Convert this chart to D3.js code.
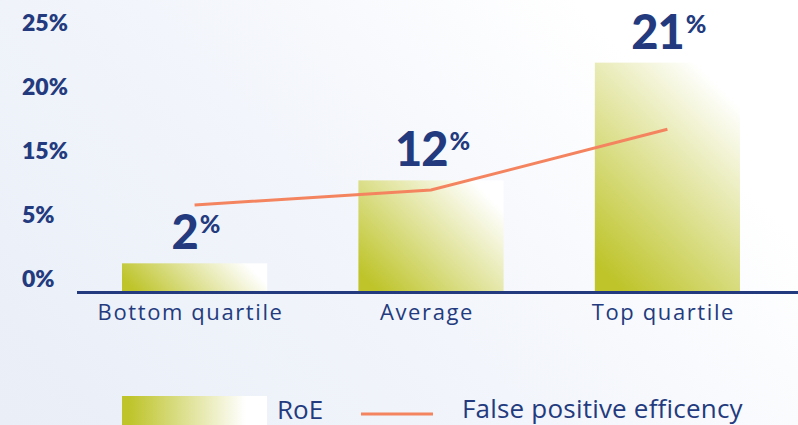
<!DOCTYPE html>
<html>
<head>
<meta charset="utf-8">
<script src="https://cdn.jsdelivr.net/npm/d3@7"></script>
<style>
  body { margin: 0; background: #fff; }
  text { font-family: Lato, "Open Sans", sans-serif; }
  text.os { font-family: "Open Sans", sans-serif; }
</style>
</head>
<body>
<div id="container"></div>
<script>
/* DATA */
const categories = ["Bottom quartile", "Average", "Top quartile"]
const roeValues = [2.8, 10.9, 22.4]        // bar heights
const roeLabels = ["2", "12", "21"]         // printed value labels
const fpeValues = [8.5, 9.96, 15.9]         // false positive efficency line
const tickLabels = ["0%", "5%", "15%", "20%", "25%"]

/* CONSTANTS AND GLOBALS */
const width = 798
const height = 425
const navy = "#233b7e"
const olive = "#bec42a"
const salmon = "#f4845f"

const svg = d3.select("#container")
  .append("svg")
  .attr("width", width)
  .attr("height", height)

const defs = svg.append("defs")

// background wash, light blue bottom-left to white top-right
const bg = defs.append("linearGradient")
  .attr("id", "bg")
  .attr("gradientUnits", "userSpaceOnUse")
  .attr("x1", 0).attr("y1", 425)
  .attr("x2", 520).attr("y2", -60)
bg.append("stop").attr("offset", 0).attr("stop-color", "#e9eef7")
bg.append("stop").attr("offset", 0.55).attr("stop-color", "#f2f5fb")
bg.append("stop").attr("offset", 1).attr("stop-color", "#ffffff")

svg.append("rect")
  .attr("width", width)
  .attr("height", height)
  .attr("fill", "url(#bg)")

/* SCALES */
const xScale = d3.scaleBand()
  .domain(categories)
  .range([122, 740])
  .paddingInner(0.386)
  .paddingOuter(0)

const yScale = d3.scaleLinear()
  .domain([0, 25])
  .range([292, 36])

const tickScale = d3.scalePoint()
  .domain(tickLabels)
  .range([279, 23])

/* Y LABELS */
svg.append("g")
  .selectAll("text")
  .data(tickLabels)
  .join("text")
  .attr("x", 22)
  .attr("y", d => tickScale(d))
  .attr("dy", "0.36em")
  .attr("fill", navy)
  .attr("font-size", 23)
  .attr("font-weight", 800)
  .text(d => d)

/* BARS */
const bars = categories.map((c, i) => ({
  cat: c,
  value: roeValues[i],
  label: roeLabels[i],
  fpe: fpeValues[i]
}))

bars.forEach((d, i) => {
  const x = xScale(d.cat)
  const w = xScale.bandwidth()
  const y = yScale(d.value)
  const h = yScale(0) - y
  const g = defs.append("linearGradient")
    .attr("id", "bar" + i)
    .attr("gradientUnits", "userSpaceOnUse")
    .attr("x1", x).attr("y1", y + h)
    .attr("x2", x + (w + h) / 2).attr("y2", y + h - (w + h) / 2)
  g.append("stop").attr("offset", 0.08).attr("stop-color", olive)
  g.append("stop").attr("offset", 0.88).attr("stop-color", "#ffffff")
})

svg.append("g")
  .selectAll("rect")
  .data(bars)
  .join("rect")
  .attr("x", d => xScale(d.cat))
  .attr("y", d => yScale(d.value))
  .attr("width", xScale.bandwidth())
  .attr("height", d => yScale(0) - yScale(d.value))
  .attr("fill", (d, i) => `url(#bar${i})`)

/* AXIS LINE */
svg.append("line")
  .attr("x1", 77).attr("x2", width)
  .attr("y1", yScale(0) + 0.5).attr("y2", yScale(0) + 0.5)
  .attr("stroke", navy)
  .attr("stroke-width", 3)

/* X LABELS */
svg.append("g")
  .selectAll("text")
  .data(bars)
  .join("text")
  .attr("class", "os")
  .attr("x", d => xScale(d.cat) + xScale.bandwidth() / 2 - 4)
  .attr("y", 320)
  .attr("text-anchor", "middle")
  .attr("fill", navy)
  .attr("font-size", 22)
  .attr("font-weight", 500)
  .attr("letter-spacing", 1.6)
  .text(d => d.cat)

/* VALUE LABELS */
const vl = svg.append("g")
  .selectAll("text")
  .data(bars)
  .join("text")
  .attr("x", d => xScale(d.cat) + xScale.bandwidth() / 2 + 1)
  .attr("y", d => yScale(d.value) - 14)
  .attr("text-anchor", "middle")
  .attr("fill", navy)
  .attr("font-weight", 900)
  .attr("font-size", 47)
  .attr("letter-spacing", -1)
vl.append("tspan").text(d => d.label)
vl.append("tspan")
  .attr("font-size", 25)
  .attr("dx", 2)
  .attr("dy", -16)
  .text("%")

/* LINE */
const line = d3.line()
  .x(d => xScale(d.cat) + xScale.bandwidth() / 2)
  .y(d => yScale(d.fpe))

svg.append("path")
  .datum(bars)
  .attr("d", line)
  .attr("fill", "none")
  .attr("stroke", salmon)
  .attr("stroke-width", 3)

/* LEGEND */
const lg = defs.append("linearGradient").attr("id", "legendGrad")
lg.append("stop").attr("offset", 0.05).attr("stop-color", olive)
lg.append("stop").attr("offset", 0.85).attr("stop-color", "#ffffff")

const legend = svg.append("g")
legend.append("rect")
  .attr("x", 122).attr("y", 396)
  .attr("width", 145).attr("height", 30)
  .attr("fill", "url(#legendGrad)")
legend.append("text")
  .attr("class", "os")
  .attr("x", 277).attr("y", 419)
  .attr("fill", navy)
  .attr("font-size", 26)
  .text("RoE")
legend.append("line")
  .attr("x1", 361).attr("x2", 433)
  .attr("y1", 414).attr("y2", 414)
  .attr("stroke", salmon)
  .attr("stroke-width", 3)
legend.append("text")
  .attr("class", "os")
  .attr("x", 462).attr("y", 418)
  .attr("fill", navy)
  .attr("font-size", 26)
  .attr("letter-spacing", 0.2)
  .text("False positive efficency")
</script>
</body>
</html>
